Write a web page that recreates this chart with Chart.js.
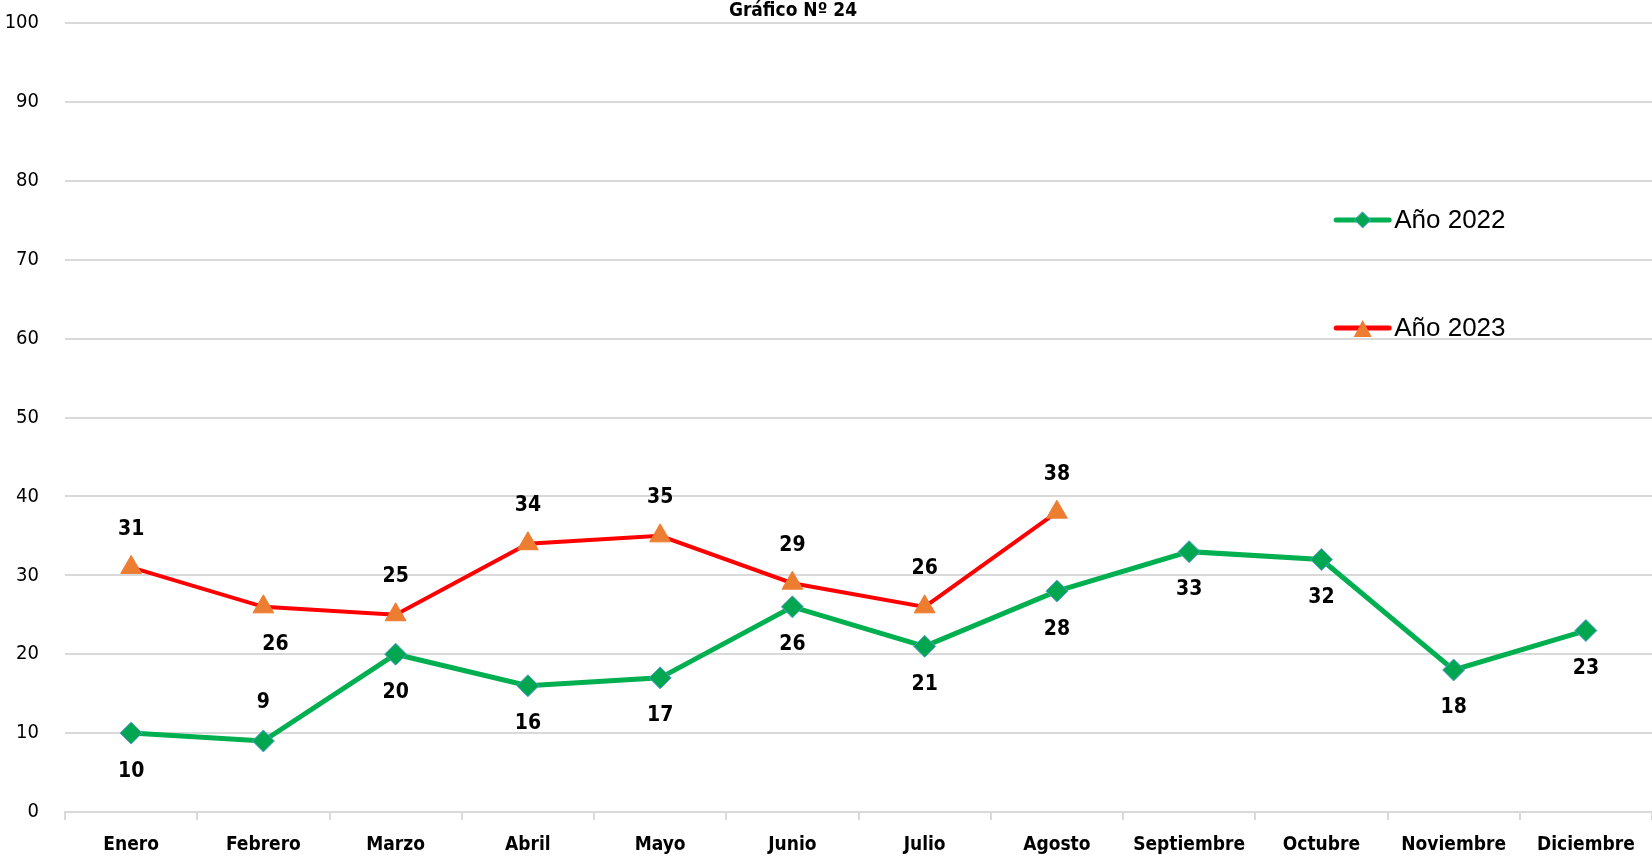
<!DOCTYPE html>
<html>
<head>
<meta charset="utf-8">
<script src="https://cdn.jsdelivr.net/npm/chart.js@4/dist/chart.umd.min.js"></script>
<style>
html,body{margin:0;padding:0;background:#fff;overflow:hidden;}
#wrap{width:1652px;height:856px;position:relative;}
canvas{display:block;}
</style>
</head>
<body>
<div id="wrap"><canvas id="c" width="1652" height="856"></canvas></div>
<script>
const categories = ['Enero','Febrero','Marzo','Abril','Mayo','Junio','Julio','Agosto','Septiembre','Octubre','Noviembre','Diciembre'];
const values2022 = [10, 9, 20, 16, 17, 26, 21, 28, 33, 32, 18, 23];
const values2023 = [31, 26, 25, 34, 35, 29, 26, 38, null, null, null, null];
const yTicks = [0,10,20,30,40,50,60,70,80,90,100];
const seriesNames = ['Año 2022','Año 2023'];
const titleText = 'Gráfico Nº 24';
// label placement: 1 = above, -1 = below
const labelPos2022 = [-1, 1, -1, -1, -1, -1, -1, -1, -1, -1, -1, -1];
const labelPos2023 = [1, -1, 1, 1, 1, 1, 1, 1, 1, 1, 1, 1];

const condensed = "'DejaVu Sans Condensed','Liberation Sans Narrow',sans-serif";

const dataLabelPlugin = {
  id: 'dataLabels',
  afterDatasetsDraw(chart) {
    const ctx = chart.ctx;
    ctx.save();
    ctx.font = "bold 21px " + condensed;
    ctx.fillStyle = '#000';
    ctx.textAlign = 'center';
    ctx.textBaseline = 'middle';
    chart.data.datasets.forEach((ds, di) => {
      const meta = chart.getDatasetMeta(di);
      const pos = di === 0 ? labelPos2022 : labelPos2023;
      meta.data.forEach((pt, i) => {
        const v = ds.data[i];
        if (v === null || v === undefined) return;
        const dy = pos[i] > 0 ? -38 : 38;
        const dx = (di === 1 && pos[i] < 0) ? 12 : 0;
        ctx.fillText(String(v), pt.x + dx, pt.y + dy);
      });
    });
    ctx.restore();
  }
};

const titlePlugin = {
  id: 'customTitle',
  afterDraw(chart) {
    const ctx = chart.ctx;
    ctx.save();
    ctx.font = "bold 19px " + condensed;
    ctx.fillStyle = '#000';
    ctx.textAlign = 'center';
    ctx.textBaseline = 'middle';
    ctx.fillText(titleText, chart.width * 0.48, 11);
    ctx.restore();
  }
};

const legendPlugin = {
  id: 'customLegend',
  afterDraw(chart) {
    const ctx = chart.ctx;
    const area = chart.chartArea;
    const x0 = area.left + (area.right - area.left) * 0.801;
    const ys = [area.top + (area.bottom - area.top) * 0.2497, area.top + (area.bottom - area.top) * 0.3866];
    ctx.save();
    chart.data.datasets.forEach((ds, di) => {
      const y = ys[di];
      ctx.strokeStyle = ds.borderColor;
      ctx.lineWidth = 5;
      ctx.lineCap = 'round';
      ctx.beginPath();
      ctx.moveTo(x0, y);
      ctx.lineTo(x0 + 53, y);
      ctx.stroke();
      const cx = x0 + 26.5;
      ctx.fillStyle = ds.pointBackgroundColor;
      ctx.strokeStyle = ds.pointBorderColor;
      ctx.lineWidth = 1;
      ctx.beginPath();
      if (di === 0) {
        const r = 8;
        ctx.moveTo(cx, y - r); ctx.lineTo(cx + r, y); ctx.lineTo(cx, y + r); ctx.lineTo(cx - r, y); ctx.closePath();
        ctx.fill(); ctx.stroke();
      } else {
        ctx.moveTo(cx, y - 8); ctx.lineTo(cx + 9, y + 9); ctx.lineTo(cx - 9, y + 9); ctx.closePath();
        ctx.fill();
      }
      ctx.fillStyle = '#000';
      ctx.font = "26px 'Liberation Sans', Arial, sans-serif";
      ctx.textAlign = 'left';
      ctx.textBaseline = 'middle';
      ctx.fillText(seriesNames[di], x0 + 58, y + 1);
    });
    ctx.restore();
  }
};

new Chart(document.getElementById('c'), {
  type: 'line',
  data: {
    labels: categories,
    datasets: [
      {
        label: seriesNames[0],
        data: values2022,
        borderColor: '#00B050',
        borderWidth: 5,
        pointStyle: 'rectRot',
        pointRadius: 11,
        pointBackgroundColor: '#00A650',
        pointBorderColor: '#5B9BD5',
        pointBorderWidth: 1,
        tension: 0,
        spanGaps: false
      },
      {
        label: seriesNames[1],
        data: values2023,
        borderColor: '#FF0000',
        borderWidth: 4,
        pointStyle: 'triangle',
        pointRadius: 12,
        pointBackgroundColor: '#ED7D31',
        pointBorderColor: '#ED7D31',
        pointBorderWidth: 1,
        tension: 0,
        spanGaps: false
      }
    ]
  },
  options: {
    responsive: false,
    animation: false,
    layout: { autoPadding: false, padding: { top: 23, right: 0, left: 0, bottom: 0 } },
    plugins: {
      legend: { display: false },
      title: { display: false },
      tooltip: { enabled: false }
    },
    scales: {
      x: {
        type: 'category',
        offset: true,
        grid: {
          offset: true,
          drawOnChartArea: false,
          drawTicks: true,
          tickLength: 8,
          color: '#D9D9D9',
          lineWidth: 2
        },
        border: { display: true, color: '#D9D9D9', width: 2 },
        ticks: {
          color: '#000',
          font: { family: condensed, size: 19, weight: 'bold' },
          padding: 14,
          maxRotation: 0,
          autoSkip: false
        },
        afterFit(scale) { scale.height = 44; scale.paddingLeft = 0; scale.paddingRight = 0; }
      },
      y: {
        min: 0,
        max: 100,
        afterBuildTicks(scale) { scale.ticks = yTicks.map(v => ({ value: v })); },
        grid: {
          color: '#D9D9D9',
          lineWidth: 2,
          drawTicks: false
        },
        border: { display: false },
        ticks: {
          color: '#000',
          font: { family: condensed, size: 20 },
          padding: 26,
          align: 'center'
        },
        afterFit(scale) { scale.width = 65; scale.paddingTop = 0; scale.paddingBottom = 0; }
      }
    }
  },
  plugins: [dataLabelPlugin, titlePlugin, legendPlugin]
});
</script>
</body>
</html>
